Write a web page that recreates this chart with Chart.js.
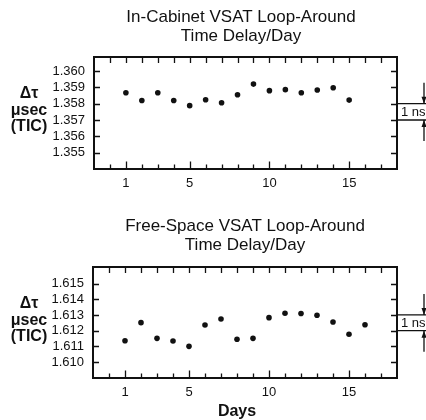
<!DOCTYPE html>
<html><head><meta charset="utf-8">
<script src="https://cdn.jsdelivr.net/npm/chart.js@4/dist/chart.umd.min.js"></script>
<style>
html,body{margin:0;padding:0;background:#fff;width:426px;height:420px;overflow:hidden}
.w{position:absolute;left:0;width:426px}
#w1{top:0;height:205px}
#w2{top:205px;height:215px}
</style></head><body>
<div class="w" id="w1"><canvas id="c1"></canvas></div>
<div class="w" id="w2"><canvas id="c2"></canvas></div>
<script>
// ---- data ----
const cabinetDays = [1,2,3,4,5,6,7,8,9,10,11,12,13,14,15];
const cabinetDelay = [1.35867,1.35820,1.35867,1.35820,1.35788,1.35824,1.35806,1.35855,1.35920,1.35880,1.35886,1.35867,1.35884,1.35898,1.35822];
const freeSpaceDays = [1,2,3,4,5,6,7,8,9,10,11,12,13,14,15,16];
const freeSpaceDelay = [1.61136,1.61251,1.61151,1.61134,1.61100,1.61236,1.61274,1.61145,1.61151,1.61283,1.61311,1.61309,1.61298,1.61255,1.61177,1.61238];
const cabinetYTicks = [1.355,1.356,1.357,1.358,1.359,1.360];
const freeSpaceYTicks = [1.610,1.611,1.612,1.613,1.614,1.615];
const xTickLabels = [1,5,10,15];
const dayMarks = [0,1,2,3,4,5,6,7,8,9,10,11,12,13,14,15,16,17];
const cabinetTitle = ['In-Cabinet VSAT Loop-Around','Time Delay/Day'];
const freeSpaceTitle = ['Free-Space VSAT Loop-Around','Time Delay/Day'];
const yAxisLabel = ['\u0394\u03c4','\u03bcsec','(TIC)'];
const xAxisLabel = 'Days';
const nsLabel = '1 ns';
const cabinetNsBand = [1.358,1.357];
const freeSpaceNsBand = [1.613,1.612];

const FONT = "'Liberation Sans', Arial, Helvetica, sans-serif";

function makeChart(id, o) {
  const deco = {
    id: 'deco' + id,
    beforeDraw(chart) {
      const c = chart.ctx; c.save(); c.fillStyle = '#fff';
      c.fillRect(0, 0, chart.width, chart.height); c.restore();
    },
    afterDraw(chart) {
      const c = chart.ctx, a = chart.chartArea;
      const xs = chart.scales.x, ys = chart.scales.y;
      c.save();
      c.strokeStyle = '#111'; c.fillStyle = '#111';
      // box
      c.lineWidth = 2;
      c.strokeRect(a.left, a.top, a.right - a.left, a.bottom - a.top);
      // inward ticks
      c.lineWidth = 1.3;
      c.beginPath();
      o.yTicks.forEach(v => {
        const y = Math.round(ys.getPixelForValue(v)) + 0.5;
        c.moveTo(a.left, y); c.lineTo(a.left + 6, y);
        c.moveTo(a.right, y); c.lineTo(a.right - 6, y);
      });
      dayMarks.forEach(d => {
        const x = Math.round(xs.getPixelForValue(d)) + 0.5;
        c.moveTo(x, a.top); c.lineTo(x, a.top + 6);
        const len = xTickLabels.includes(d) ? 7.5 : 4.5;
        c.moveTo(x, a.bottom); c.lineTo(x, a.bottom - len);
      });
      c.stroke();
      // 1 ns annotation
      const y1 = ys.getPixelForValue(o.band[0]), y2 = ys.getPixelForValue(o.band[1]);
      c.beginPath();
      c.moveTo(a.right, y1); c.lineTo(chart.width, y1);
      c.moveTo(a.right, y2); c.lineTo(chart.width, y2);
      const ax = 424;
      c.moveTo(ax, y1 - 21); c.lineTo(ax, y1);
      c.moveTo(ax, y2 + 21); c.lineTo(ax, y2);
      c.stroke();
      c.beginPath();
      c.moveTo(ax, y1); c.lineTo(ax - 2.5, y1 - 7); c.lineTo(ax + 2.5, y1 - 7); c.closePath();
      c.moveTo(ax, y2); c.lineTo(ax - 2.5, y2 + 7); c.lineTo(ax + 2.5, y2 + 7); c.closePath();
      c.fill();
      c.font = '13px ' + FONT; c.textAlign = 'left'; c.textBaseline = 'middle';
      c.fillText(nsLabel, a.right + 4, (y1 + y2) / 2 + 1);
      // titles
      c.font = '17px ' + FONT; c.textAlign = 'center'; c.textBaseline = 'alphabetic';
      c.fillText(o.title[0], o.titleX, o.titleY[0]);
      c.fillText(o.title[1], o.titleX, o.titleY[1]);
      // y label
      c.font = 'bold 16px ' + FONT; c.textBaseline = 'middle';
      yAxisLabel.forEach((t, i) => c.fillText(t, 29, a.top + 37 + i * 16.5));
      if (o.xLabel) {
        c.fillText(o.xLabel, 237, a.bottom + 34);
      }
      c.restore();
    }
  };
  return new Chart(document.getElementById(id), {
    type: 'scatter',
    data: { datasets: [{
      data: o.days.map((d, i) => ({ x: d, y: o.vals[i] })),
      backgroundColor: '#111', borderWidth: 0, pointRadius: 2.8, pointHoverRadius: 2.8
    }]},
    options: {
      responsive: true, maintainAspectRatio: false, devicePixelRatio: 1, animation: false,
      layout: { padding: { top: o.top, right: 29, left: 0, bottom: 0 } },
      plugins: { legend: { display: false }, tooltip: { enabled: false }, title: { display: false } },
      scales: {
        x: {
          type: 'linear', min: -1, max: 18,
          grid: { display: false, drawTicks: false }, border: { display: false },
          afterBuildTicks: s => { s.ticks = xTickLabels.map(v => ({ value: v })); },
          afterFit: s => { s.height = o.xH; },
          ticks: { padding: 7, color: '#111', font: { family: FONT, size: 13 }, maxRotation: 0, autoSkip: false,
                   callback: v => String(v) }
        },
        y: {
          type: 'linear', min: o.ymin, max: o.ymax,
          grid: { display: false, drawTicks: false }, border: { display: false },
          afterBuildTicks: s => { s.ticks = o.yTicks.map(v => ({ value: v })); },
          afterFit: s => { s.width = o.left; },
          ticks: { padding: 9, color: '#111', font: { family: FONT, size: 13 }, autoSkip: false,
                   callback: v => Number(v).toFixed(3) }
        }
      }
    },
    plugins: [deco]
  });
}

makeChart('c1', { days: cabinetDays, vals: cabinetDelay, yTicks: cabinetYTicks, ymin: 1.354, ymax: 1.36086,
  band: cabinetNsBand, title: cabinetTitle, titleX: 241, titleY: [22, 41], top: 57, left: 94, xH: 36 });
makeChart('c2', { days: freeSpaceDays, vals: freeSpaceDelay, yTicks: freeSpaceYTicks, ymin: 1.60898, ymax: 1.61606,
  band: freeSpaceNsBand, title: freeSpaceTitle, titleX: 245, titleY: [26, 45], top: 62, left: 93, xH: 42, xLabel: xAxisLabel });
</script>
</body></html>
